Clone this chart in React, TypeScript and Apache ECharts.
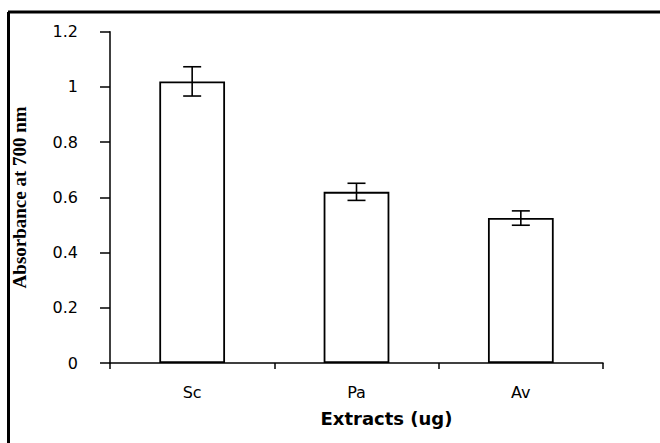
import React, { useEffect, useRef } from "react";
import * as echarts from "echarts";

const categories = ["Sc", "Pa", "Av"];
const values = [1.02, 0.62, 0.525];
const errors = [0.053, 0.031, 0.026];
const yTicks = [0, 0.2, 0.4, 0.6, 0.8, 1, 1.2];

export default function App() {
  const ref = useRef<HTMLDivElement>(null);
  useEffect(() => {
    if (!ref.current) return;
    const chart = echarts.init(ref.current, null, { renderer: "svg" });
    const errData = categories.map((c, i) => [i, values[i] - errors[i], values[i] + errors[i]]);
    chart.setOption({
      animation: false,
      backgroundColor: "#ffffff",
      grid: { left: 110, right: 57, top: 31.7, bottom: 80 },
      xAxis: {
        type: "category",
        data: categories,
        name: "Extracts (ug)",
        nameLocation: "middle",
        nameGap: 46,
        nameTextStyle: {
          fontFamily: "DejaVu Sans",
          fontWeight: "bold",
          fontSize: 18,
          color: "#000",
          padding: [0, 0, 0, 60],
        },
        axisLine: { lineStyle: { color: "#000", width: 1.5 } },
        axisTick: { show: true, alignWithLabel: false, length: 6, lineStyle: { color: "#000", width: 1.5 } },
        axisLabel: { margin: 21, fontFamily: "DejaVu Sans", fontSize: 16, color: "#000" },
        splitLine: { show: false },
      },
      yAxis: {
        type: "value",
        min: 0,
        max: 1.2,
        interval: 0.2,
        name: "Absorbance at 700 nm",
        nameLocation: "middle",
        nameGap: 81,
        nameTextStyle: {
          fontFamily: "Liberation Serif",
          fontWeight: "bold",
          fontSize: 19,
          color: "#000",
        },
        axisLine: { show: true, lineStyle: { color: "#000", width: 1.5 } },
        axisTick: { show: true, length: 10, lineStyle: { color: "#000", width: 1.5 } },
        axisLabel: {
          margin: 32,
          fontFamily: "DejaVu Sans",
          fontSize: 16,
          color: "#000",
          formatter: (v: number) => {
            const t = yTicks.find((x) => Math.abs(x - v) < 1e-9);
            return t === undefined ? "" : String(t);
          },
        },
        splitLine: { show: false },
      },
      series: [
        {
          type: "bar",
          data: values,
          barWidth: "40%",
          itemStyle: { color: "#ffffff", borderColor: "#000", borderWidth: 1.8 },
        },
        {
          type: "custom",
          data: errData,
          z: 10,
          renderItem: (params: any, api: any) => {
            const x = api.value(0);
            const lo = api.coord([x, api.value(1)]);
            const hi = api.coord([x, api.value(2)]);
            const hw = 9;
            const style = { stroke: "#000", lineWidth: 1.6 };
            return {
              type: "group",
              children: [
                { type: "line", shape: { x1: lo[0], y1: lo[1], x2: hi[0], y2: hi[1] }, style },
                { type: "line", shape: { x1: hi[0] - hw, y1: hi[1], x2: hi[0] + hw, y2: hi[1] }, style },
                { type: "line", shape: { x1: lo[0] - hw, y1: lo[1], x2: lo[0] + hw, y2: lo[1] }, style },
              ],
            };
          },
        },
      ],
      graphic: [
        { type: "line", shape: { x1: 8, y1: 12, x2: 660, y2: 12 }, style: { stroke: "#000", lineWidth: 3 } },
        { type: "line", shape: { x1: 8.5, y1: 12, x2: 8.5, y2: 443 }, style: { stroke: "#000", lineWidth: 3 } },
      ],
    });
    return () => chart.dispose();
  }, []);
  return (
    <div
      ref={ref}
      style={{ position: "fixed", left: 0, top: 0, width: 660, height: 443 }}
    />
  );
}
